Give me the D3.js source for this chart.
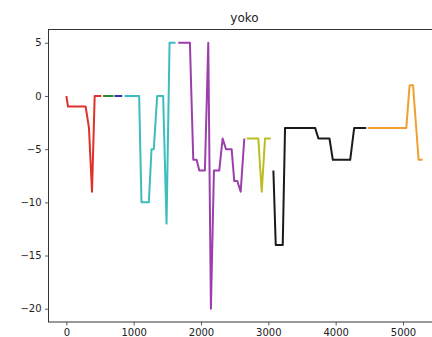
<!DOCTYPE html>
<html><head><meta charset="utf-8">
<script src="https://cdn.jsdelivr.net/npm/d3@7"></script>
<style>html,body{margin:0;padding:0;background:#fff;overflow:hidden}</style>
</head><body>
<svg id="c" width="432" height="337"></svg>
<script>
const title = "yoko";
const xTicks = [0, 1000, 2000, 3000, 4000, 5000];
const yTicks = [-20, -15, -10, -5, 0, 5];

const redX = [0, 25, 287, 336, 381, 421, 520];
const redY = [0, -1, -1, -3, -9, 0, 0];
const greenX = [545, 700];
const greenY = [0, 0];
const blueX = [715, 830];
const blueY = [0, 0];
const cyanX = [866, 1081, 1116, 1225, 1265, 1299, 1349, 1438, 1488, 1533, 1622];
const cyanY = [0, 0, -10, -10, -5, -5, 0, 0, -12, 5, 5];
const purpleX = [1662, 1835, 1885, 1934, 1975, 2058, 2108, 2147, 2192, 2271, 2321, 2371, 2455, 2494, 2539, 2589, 2643];
const purpleY = [5, 5, -6, -6, -7, -7, 5, -20, -7, -7, -4, -5, -5, -8, -8, -9, -4];
const oliveX = [2679, 2851, 2902, 2951, 3036];
const oliveY = [-4, -4, -9, -4, -4];
const blackX = [3075, 3110, 3214, 3248, 3695, 3744, 3908, 3958, 4216, 4275, 4454];
const blackY = [-7, -14, -14, -3, -3, -4, -4, -6, -6, -3, -3];
const orangeX = [4474, 5049, 5098, 5149, 5232, 5292];
const orangeY = [-3, -3, 1, 1, -6, -6];

const series = [
  {x: redX, y: redY, c: "#e0302a"},
  {x: greenX, y: greenY, c: "#2e8b2e"},
  {x: blueX, y: blueY, c: "#3030a8"},
  {x: cyanX, y: cyanY, c: "#3dbdbd"},
  {x: purpleX, y: purpleY, c: "#9c3fac"},
  {x: oliveX, y: oliveY, c: "#bcbd22"},
  {x: blackX, y: blackY, c: "#1a1a1a"},
  {x: orangeX, y: orangeY, c: "#f0a030"}
];

const svg = d3.select("#c");
const L = 48.5, R = 440.5, T = 29.5, B = 322;
const x = d3.scaleLinear().domain([-265, 5557]).range([L, R]);
const y = d3.scaleLinear().domain([-21.25, 6.25]).range([B, T]);

const line = d3.line().x(d => x(d[0])).y(d => y(d[1]));
series.forEach(s => {
  svg.append("path")
    .datum(s.x.map((v, i) => [v, s.y[i]]))
    .attr("d", line)
    .attr("fill", "none")
    .attr("stroke", s.c)
    .attr("stroke-width", 2)
    .attr("stroke-linejoin", "round");
});

const fmt = d => String(d).replace("-", "\u2212");
const xAxis = svg.append("g").attr("transform", `translate(0,${B})`)
  .call(d3.axisBottom(x).tickValues(xTicks).tickSize(3.5).tickPadding(3.5).tickFormat(fmt));
const yAxis = svg.append("g").attr("transform", `translate(${L},0)`)
  .call(d3.axisLeft(y).tickValues(yTicks).tickSize(3.5).tickPadding(3.5).tickFormat(fmt));
[xAxis, yAxis].forEach(g => {
  g.select(".domain").remove();
  g.selectAll("line").attr("stroke", "#333").attr("stroke-width", 0.8);
  g.selectAll("text").attr("fill", "#222").style("font-family", "DejaVu Sans").style("font-size", "10px");
});

svg.append("rect").attr("x", L).attr("y", T).attr("width", R - L).attr("height", B - T)
  .attr("fill", "none").attr("stroke", "#333").attr("stroke-width", 1);

svg.append("text").attr("x", (L + R) / 2).attr("y", 22).attr("text-anchor", "middle")
  .style("font-family", "DejaVu Sans").style("font-size", "12px").attr("fill", "#222").text(title);
</script>
</body></html>
